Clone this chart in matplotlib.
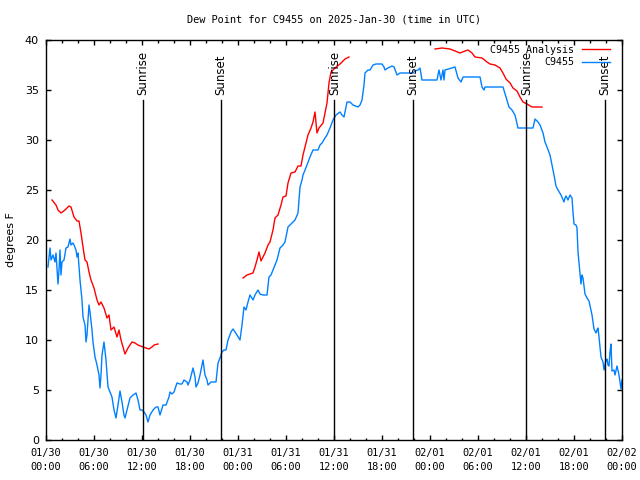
"""Dew point chart for station C9455, gnuplot look."""

import matplotlib

matplotlib.use("Agg")
import matplotlib.pyplot as plt
from matplotlib.ticker import MultipleLocator

# hours since 2025-01-30 00:00 UTC
obs_hours = [
    0.25, 0.5, 0.625, 0.875, 1.125, 1.25, 1.5, 1.625, 1.75, 1.875, 2.0, 2.25, 2.5, 2.75,
    3.0, 3.125, 3.375, 3.5, 3.75, 3.875, 4.0, 4.25, 4.5, 4.625, 4.875, 5.0, 5.125, 5.375,
    5.5, 5.75, 5.875, 6.125, 6.375, 6.625, 6.75, 6.875, 7.0, 7.25, 7.5, 7.75, 8.0, 8.25,
    8.5, 8.75, 9.0, 9.25, 9.5, 9.75, 9.875, 10.125, 10.5, 10.875, 11.25, 11.5, 11.75, 12.0,
    12.25, 12.5, 12.75, 13.0, 13.375, 13.75, 14.0, 14.25, 14.625, 15.0, 15.375, 15.5,
    15.75, 16.0, 16.375, 16.75, 17.0, 17.25, 17.625, 17.75, 18.0, 18.375, 18.625, 18.75,
    19.0, 19.25, 19.625, 19.875, 20.125, 20.25, 20.625, 21.0, 21.25, 21.5, 21.75, 22.0,
    22.25, 22.5, 22.75, 23.125, 23.375, 23.625, 23.875, 24.25, 24.5, 24.75, 25.0, 25.25,
    25.5, 25.875, 26.125, 26.5, 26.75, 27.125, 27.625, 27.875, 28.125, 28.375, 28.625,
    28.875, 29.25, 29.625, 29.875, 30.25, 30.5, 30.875, 31.125, 31.5, 31.75, 32.0, 32.125,
    32.375, 32.625, 33.0, 33.375, 34.0, 34.25, 34.5, 34.875, 35.125, 35.5, 35.875, 36.25,
    36.75, 37.0, 37.25, 37.375, 37.625, 38.0, 38.375, 39.0, 39.25, 39.5, 39.75, 39.875,
    40.25, 40.5, 40.875, 41.25, 42.0, 42.25, 42.375, 42.75, 43.25, 43.5, 43.75, 43.875,
    44.25, 45.875, 46.125, 46.5, 46.75, 47.0, 48.875, 49.125, 49.375, 49.625, 49.75,
    49.875, 51.125, 51.5, 51.875, 52.125, 54.25, 54.5, 54.75, 54.875, 57.125, 57.5,
    57.875, 58.25, 58.625, 59.0, 60.875, 61.125, 61.5, 61.75, 62.125, 62.375, 62.625,
    63.0, 63.25, 63.5, 63.75, 64.0, 64.375, 64.75, 64.875, 65.0, 65.25, 65.5, 65.75,
    65.875, 66.0, 66.25, 66.375, 66.5, 66.75, 66.875, 67.0, 67.125, 67.375, 67.625,
    67.875, 68.125, 68.25, 68.5, 68.75, 68.875, 69.0, 69.125, 69.375, 69.625, 69.75,
    70.0, 70.125, 70.25, 70.375, 70.5, 70.625, 70.75, 71.0, 71.125, 71.375, 71.625,
    71.875, 72.0,
]
obs_dewpt = [
    17.3, 19.2, 18.0, 18.5, 17.8, 18.7, 15.6, 17.0, 19.0, 16.5, 17.8, 18.0, 19.2, 19.3,
    20.1, 19.5, 19.7, 19.5, 19.0, 18.3, 18.7, 16.0, 14.0, 12.3, 11.5, 9.8, 10.5, 13.5,
    12.8, 11.0, 9.8, 8.3, 7.5, 6.5, 5.2, 6.5, 8.5, 9.8, 8.0, 5.3, 4.8, 4.3,
    3.0, 2.2, 3.5, 4.9, 3.8, 2.5, 2.2, 3.0, 4.2, 4.5, 4.7, 4.0, 3.0, 3.0,
    2.8, 2.5, 1.8, 2.5, 3.0, 3.3, 3.3, 2.5, 3.5, 3.5, 4.3, 4.8,
    4.6, 4.8, 5.7, 5.6, 5.6, 6.0, 5.8, 5.5, 6.0, 7.2, 6.3, 5.3,
    5.7, 6.5, 8.0, 6.5, 6.0, 5.5, 5.8, 5.8, 5.8, 7.7, 8.2, 8.8,
    9.0, 9.0, 10.0, 10.8, 11.1, 10.8, 10.5, 10.0, 11.5, 13.3, 13.0, 13.8,
    14.5, 14.0, 14.5, 15.0, 14.6, 14.5, 14.5, 16.3, 16.5, 17.0, 17.5,
    18.0, 19.2, 19.5, 19.8, 21.3, 21.5, 21.8, 22.0, 22.7, 25.3, 26.0, 26.5,
    27.0, 27.5, 28.3, 29.0, 29.0, 29.5, 29.7, 30.2, 30.5, 31.2, 32.0, 32.5,
    32.8, 32.5, 32.3, 32.8, 33.8, 33.8, 33.5, 33.3, 33.5, 34.0, 35.5, 36.7,
    37.0, 37.0, 37.5, 37.6, 37.6, 37.3, 37.0, 37.2, 37.4, 37.3, 36.8, 36.5,
    36.7, 36.7, 36.9, 37.0, 37.2, 36.0, 36.0, 37.0, 36.0, 37.0, 36.0,
    37.0, 37.3, 36.2, 35.8, 36.3, 36.3, 35.3, 35.0, 35.3, 35.3, 34.3,
    33.3, 33.0, 32.5, 31.2, 31.2, 32.1, 31.8, 31.5, 30.7, 29.8, 29.3,
    28.5, 27.5, 26.5, 25.4, 25.0, 24.5, 23.8, 24.2, 24.4, 24.0, 24.5, 24.2,
    22.8, 21.6, 21.5, 21.2, 18.8, 16.7, 15.6, 16.5, 16.2, 14.6, 14.2,
    13.9, 13.0, 12.5, 11.1, 10.7, 11.0, 11.2, 10.3, 8.3, 7.8, 7.0,
    8.0, 8.1, 7.5, 7.4, 8.8, 9.6, 6.9, 7.0, 6.5, 7.4, 6.5,
    5.1, 6.0,
]

# analysis series, gaps marked with None
ana_hours = [
    0.75, 1.25, 1.5, 1.875, 2.375, 2.875, 3.125, 3.5, 3.875, 4.125, 4.375, 4.625, 4.875,
    5.125, 5.375, 5.625, 6.0, 6.375, 6.625, 6.875, 7.25, 7.625, 7.875, 8.125, 8.5, 8.875,
    9.125, 9.375, 9.625, 9.875, 10.25, 10.75, 11.125, 11.5, 12.125, 12.5, 12.875, 13.25,
    13.5, 14.0, 19.0,
    24.625, 25.125, 25.875, 26.125, 26.375, 26.625, 26.875, 27.375, 27.75, 28.0, 28.375,
    28.625, 29.0, 29.375, 29.625, 30.0, 30.25, 30.625, 31.125, 31.5, 31.875, 32.125, 32.5,
    32.75, 33.125, 33.375, 33.625, 33.875, 34.125, 34.625, 34.875, 35.125, 35.375, 35.625,
    36.125, 36.75, 37.375, 37.875, 43.0,
    48.625, 49.5, 50.5, 51.125, 51.75, 52.375, 52.75, 53.25, 53.625, 54.5, 55.125, 55.5,
    56.125, 56.75, 57.125, 57.5, 58.0, 58.375, 58.875, 59.25, 59.625, 60.125, 60.75, 62.0,
]
ana_dewpt = [
    24.0, 23.5, 23.0, 22.7, 23.0, 23.4, 23.3, 22.3, 21.9, 21.9, 20.7, 19.3, 18.0,
    17.8, 16.8, 16.0, 15.2, 14.0, 13.5, 13.8, 13.2, 12.2, 12.5, 11.0, 11.3, 10.3,
    11.0, 10.0, 9.3, 8.6, 9.2, 9.8, 9.7, 9.5, 9.3, 9.2, 9.1, 9.3,
    9.5, 9.6, None,
    16.2, 16.5, 16.7, 17.3, 18.0, 18.8, 17.9, 18.7, 19.5, 19.8, 21.0,
    22.2, 22.5, 23.5, 24.3, 24.4, 25.7, 26.7, 26.8, 27.4, 27.4, 28.5, 29.7,
    30.5, 31.2, 31.8, 32.8, 30.7, 31.2, 31.7, 32.7, 33.7, 35.7, 36.8,
    37.2, 37.6, 38.1, 38.3, None,
    39.1, 39.2, 39.1, 38.9, 38.7, 38.9, 39.0, 38.7, 38.3, 38.2, 37.8, 37.6,
    37.5, 37.2, 36.7, 36.1, 35.7, 35.2, 34.9, 34.3, 33.8, 33.6, 33.3, 33.3,
]

sun_hours = [12.12, 21.88, 36.05, 45.9, 60.05, 69.9]
sun_labels = ["Sunrise", "Sunset", "Sunrise", "Sunset", "Sunrise", "Sunset"]

tick_hours = list(range(0, 73, 6))
tick_labels = [
    "01/30\n00:00", "01/30\n06:00", "01/30\n12:00", "01/30\n18:00",
    "01/31\n00:00", "01/31\n06:00", "01/31\n12:00", "01/31\n18:00",
    "02/01\n00:00", "02/01\n06:00", "02/01\n12:00", "02/01\n18:00",
    "02/02\n00:00",
]

MONO = "DejaVu Sans Mono"
SANS = "DejaVu Sans"

fig = plt.figure(figsize=(6.4, 4.8), dpi=100)
ax = fig.add_axes([46 / 640, 40 / 480, 576 / 640, 400 / 480])

ana_y = [float("nan") if v is None else v for v in ana_dewpt]
ax.plot(ana_hours, ana_y, color="#ff0000", lw=1.0, label="C9455 Analysis")
ax.plot(obs_hours, obs_dewpt, color="#0080ff", lw=1.0, label="C9455")

for hour, name in zip(sun_hours, sun_labels):
    ax.plot([hour, hour], [0, 34], color="black", lw=1.0)
    ax.text(hour, 34.5, name, rotation=90, ha="center", va="bottom",
            family=SANS, fontsize=8.5)

ax.set_xlim(0, 72)
ax.set_ylim(0, 40)
ax.set_xticks(tick_hours)
ax.set_xticklabels(tick_labels, family=MONO, fontsize=7.4, linespacing=1.45)
ax.xaxis.set_minor_locator(MultipleLocator(2))
ax.yaxis.set_major_locator(MultipleLocator(5))
for lab in ax.get_yticklabels():
    lab.set_family(SANS)
    lab.set_fontsize(8)
ax.tick_params(which="both", direction="in", top=True, right=True, width=1.0)
ax.tick_params(which="major", length=3.5, pad=5)
ax.tick_params(axis="x", which="major", pad=6)
ax.tick_params(which="minor", length=1.8)
for spine in ax.spines.values():
    spine.set_linewidth(1.0)

ax.set_ylabel("degrees F", family=SANS, fontsize=8, labelpad=6.5)
ax.set_title("Dew Point for C9455 on 2025-Jan-30 (time in UTC)",
             family=MONO, fontsize=7.4, pad=12.5)

ax.legend(loc="upper right", bbox_to_anchor=(1 - 12 / 576, 1 - 5 / 400),
          frameon=False, markerfirst=False, borderaxespad=0, borderpad=0,
          handlelength=2.8, handletextpad=0.8, labelspacing=0.25,
          prop={"family": MONO, "size": 7.2})

fig.savefig("out.png", dpi=100)
